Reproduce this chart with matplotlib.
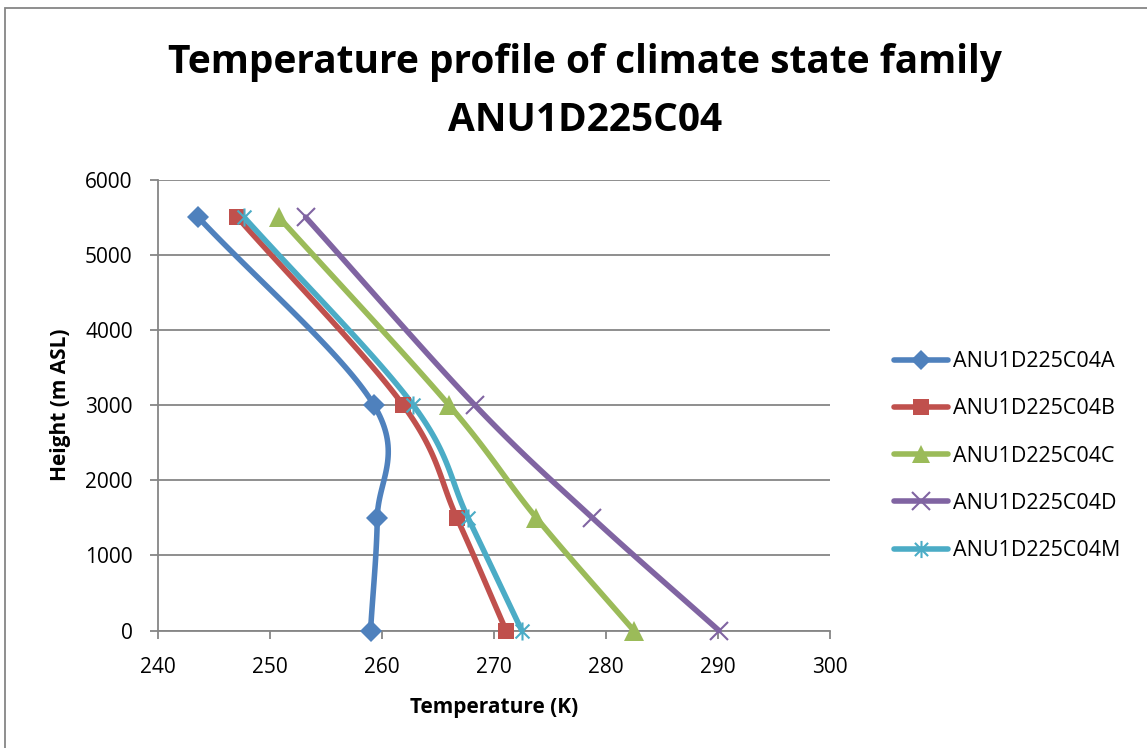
import numpy as np
import matplotlib.pyplot as plt
from matplotlib.path import Path
from matplotlib.patches import Rectangle

heights = [5500, 3000, 1500, 0]
temp_a = [243.6, 259.3, 259.6, 259.0]
temp_b = [247.1, 261.9, 266.7, 271.1]
temp_c = [250.8, 266.0, 273.8, 282.5]
temp_d = [253.2, 268.3, 278.8, 290.1]
temp_m = [247.7, 262.8, 267.7, 272.5]
names = ['ANU1D225C04A', 'ANU1D225C04B', 'ANU1D225C04C', 'ANU1D225C04D', 'ANU1D225C04M']
colors = ['#4F81BD', '#C0504D', '#9BBB59', '#8064A2', '#4BACC6']

plt.rcParams['font.family'] = ['Open Sans', 'DejaVu Sans']

# asterisk marker: an x with a vertical stroke
star = Path([(-1, -1), (1, 1), (-1, 1), (1, -1), (0, -1.3), (0, 1.3)],
            [Path.MOVETO, Path.LINETO, Path.MOVETO, Path.LINETO, Path.MOVETO, Path.LINETO])


def smooth(x, y, n=40):
    # catmull-rom through the points, like a smoothed line chart
    p = np.column_stack([x, y]).astype(float)
    p = np.vstack([2 * p[0] - p[1], p, 2 * p[-1] - p[-2]])
    out = []
    for i in range(1, len(p) - 2):
        p0, p1, p2, p3 = p[i - 1], p[i], p[i + 1], p[i + 2]
        c1 = p1 + (p2 - p0) / 6
        c2 = p2 - (p3 - p1) / 6
        t = np.linspace(0, 1, n)[:, None]
        seg = (1 - t) ** 3 * p1 + 3 * (1 - t) ** 2 * t * c1 + 3 * (1 - t) * t ** 2 * c2 + t ** 3 * p2
        out.append(seg)
    s = np.vstack(out)
    return s[:, 0], s[:, 1]


fig = plt.figure(figsize=(11.47, 7.48), dpi=100)
ax = fig.add_axes([0.1375, 0.157, 0.586, 0.603])

series = [temp_a, temp_b, temp_c, temp_d, temp_m]
markers = ['D', 's', '^', 'x', star]
sizes = [11, 12, 14, 13, 13]
handles = []
for temps, name, col, mk, ms in zip(series, names, colors, markers, sizes):
    sx, sy = smooth(temps, heights)
    ax.plot(sx, sy, color=col, lw=4, solid_capstyle='round', zorder=3, clip_on=False)
    filled = mk in ('D', 's', '^')
    ax.plot(temps, heights, ls='none', marker=mk, ms=ms, color=col,
            mew=0 if filled else 1.5, zorder=4, clip_on=False)
    h, = ax.plot([], [], color=col, lw=4, marker=mk, ms=ms * 0.95,
                 mew=0 if filled else 1.5, solid_capstyle='round')
    handles.append(h)

ax.set_xlim(240, 300)
ax.set_ylim(0, 6000)
ax.set_xticks(range(240, 301, 10))
ax.set_yticks(range(0, 6001, 1000))
ax.yaxis.grid(True, color='#868686', lw=1.3)
ax.set_axisbelow(True)
for side in ['top', 'right']:
    ax.spines[side].set_visible(False)
for side in ['left', 'bottom']:
    ax.spines[side].set_color('#868686')
    ax.spines[side].set_linewidth(1.3)
ax.tick_params(colors='#868686', labelcolor='black', labelsize=15, length=6, width=1.3)
ax.tick_params(axis='y', pad=12)
ax.tick_params(axis='x', pad=13)

ax.set_xlabel('Temperature (K)', fontsize=15, fontweight='bold', labelpad=14)
ax.set_ylabel('Height (m ASL)', fontsize=15, fontweight='bold', labelpad=10)
fig.text(0.51, 0.878, 'Temperature profile of climate state family\nANU1D225C04',
         ha='center', va='center', fontsize=28, fontweight='bold', linespacing=1.65)

fig.legend(handles, names, loc='upper left', bbox_to_anchor=(0.770, 0.545),
           frameon=False, fontsize=15.5, handlelength=2.5, handletextpad=0.25,
           labelspacing=1.22, borderpad=0)

fig.patches.append(Rectangle((5 / 1147, -0.1), 1.2, 1 - 8 / 748 + 0.1,
                             transform=fig.transFigure, fill=False,
                             ec='#868686', lw=1.3))

fig.savefig('out.png', dpi=100)
